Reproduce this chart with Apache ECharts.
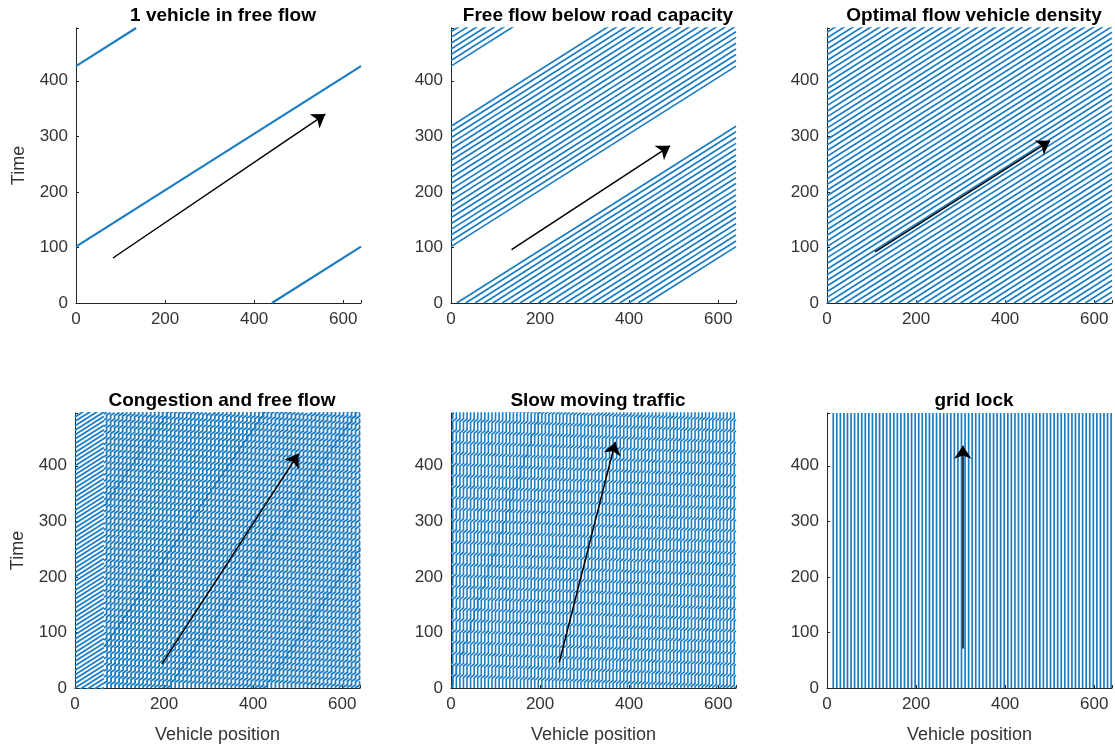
<!DOCTYPE html>
<html>
<head>
<meta charset="UTF-8">
<title>Traffic flow</title>
<script src="https://cdn.jsdelivr.net/npm/echarts@6/dist/echarts.min.js"></script>
<style>
    html, body { margin: 0; background: #fff; }
    #main { width: 1115px; height: 753px; }
</style>
</head>
<body>
<div id="main"></div>
<script type="text/javascript">
    // ---- data ----
    var titles = ['1 vehicle in free flow', 'Free flow below road capacity', 'Optimal flow vehicle density',
        'Congestion and free flow', 'Slow moving traffic', 'grid lock'];
    var xTicks = [0, 200, 400, 600];
    var yTicks = [0, 100, 200, 300, 400];
    var roadLen = 640, tMax = 495;
    var freeSpeed = 1.97;

    // panel 1: the one car, as segments [x,t]
    var p1Segs = [[[440, 0], [640, 101.5]], [[0, 101.5], [640, 426.4]], [[0, 426.4], [135, 495]]];
    // panel 2 / 3: car positions at t = 0
    var p2Start = [13, 33, 54, 74, 94, 115, 135, 155, 176, 196, 216, 237, 257, 277, 298, 318, 338, 359, 379, 399, 420, 440];
    var p3Start = [0, 20, 40, 60, 80, 100, 120, 140, 160, 180, 200, 220, 240, 260, 280, 300, 320, 340, 360, 380,
        400, 420, 440, 460, 480, 500, 520, 540, 560, 580, 600, 620];
    // panel 4: jammed cars, plus times the free cars pass x = 0
    var p4Start = [0, 9, 18, 27, 36, 45, 54, 63, 72, 81, 90, 99, 108, 117, 126, 135, 144, 153, 162, 171, 180, 189,
        198, 207, 216, 225, 234, 243, 252, 261, 270, 279, 288, 297, 306, 315, 324, 333, 342, 351, 360, 369, 378,
        387, 396, 405, 414, 423, 432, 441, 450, 459, 468, 477, 486, 495, 504, 513, 522, 531, 540, 549, 558, 567,
        576, 585, 594, 603, 612, 621, 630, 639];
    var p4FreeStart = [-32, -24, -16, -8, 0, 8, 16, 24, 32, 40, 48, 56, 64, 72, 80, 88, 96, 104, 112, 120, 128,
        136, 144, 152, 160, 168, 176, 184, 192, 200, 208, 216, 224, 232, 240, 248, 256, 264, 272, 280, 288, 296,
        304, 312, 320, 328, 336, 344, 352, 360, 368, 376, 384, 392, 400, 408, 416, 424, 432, 440, 448, 456, 464,
        472, 480, 488];
    var p4FreeEnd = 65;
    var p4Cycle = [11, 4.5, 9, 33 / 640];   // period, move time, move distance, wave lag per unit
    // panel 5
    var p5Start = [4, 12, 20, 28, 36, 44, 52, 60, 68, 76, 84, 92, 100, 108, 116, 124, 132, 140, 148, 156, 164,
        172, 180, 188, 196, 204, 212, 220, 228, 236, 244, 252, 260, 268, 276, 284, 292, 300, 308, 316, 324, 332,
        340, 348, 356, 364, 372, 380, 388, 396, 404, 412, 420, 428, 436, 444, 452, 460, 468, 476, 484, 492, 500,
        508, 516, 524, 532, 540, 548, 556, 564, 572, 580, 588, 596, 604, 612, 620, 628, 636];
    var p5Cycle = [20, 5, 8, 20 / 640];
    // panel 6: parked cars
    var p6Pos = [14, 22, 30, 38, 46, 54, 62, 70, 78, 86, 94, 102, 110, 118, 126, 134, 142, 150, 158, 166, 174,
        182, 190, 198, 206, 214, 222, 230, 238, 246, 254, 262, 270, 278, 286, 294, 302, 310, 318, 326, 334, 342,
        350, 358, 366, 374, 382, 390, 398, 406, 414, 422, 430, 438, 446, 454, 462, 470, 478, 486, 494, 502, 510,
        518, 526, 534, 542, 550, 558, 566, 574, 582, 590, 598, 606, 614, 622, 630, 638];
    // arrows [tail, head]
    var arrows = [[[83, 81], [560, 340]], [[136, 96], [492, 283]], [[108, 92], [501, 292]],
        [[195, 43], [502, 422]], [[243, 46], [369, 443]], [[305, 71], [305, 436]]];

    // ---- build trajectories ----
    function mod(a, n) { return ((a % n) + n) % n; }

    function freeFlow(starts, v) {
        var out = [];
        starts.forEach(function (x0) {
            var x = x0, t = 0;
            while (t < tMax) {
                var tEnd = t + (roadLen - x) / v;
                out.push([[x, t], [roadLen, tEnd]]);
                x = 0; t = tEnd;
            }
        });
        return out;
    }

    function stopGo(starts, cyc) {
        var period = cyc[0], move = cyc[1], dist = cyc[2], lag = cyc[3];
        var out = [];
        starts.forEach(function (x0) {
            var pts = [[x0, 0]], x = x0, t = 0;
            while (t < tMax) {
                var T = t + mod(-x * lag - t, period);
                pts.push([x, T]);
                var xe = x + dist, te = T + move;
                if (xe >= roadLen) {
                    var tc = T + move * (roadLen - x) / dist;
                    pts.push([roadLen, tc]);
                    out.push(pts);
                    pts = [[0, tc]];
                    xe -= roadLen;
                }
                pts.push([xe, te]);
                x = xe; t = te;
            }
            out.push(pts);
        });
        return out;
    }

    function clipLeft(lines, xmin) {
        var out = [];
        lines.forEach(function (pts) {
            var cur = [];
            for (var i = 0; i < pts.length; i++) {
                var p = pts[i];
                if (p[0] >= xmin) {
                    if (!cur.length && i > 0 && pts[i - 1][0] < xmin) {
                        var q = pts[i - 1], f = (xmin - q[0]) / (p[0] - q[0]);
                        cur.push([xmin, q[1] + f * (p[1] - q[1])]);
                    }
                    cur.push(p);
                } else if (cur.length) {
                    var q2 = pts[i - 1], f2 = (xmin - q2[0]) / (p[0] - q2[0]);
                    cur.push([xmin, q2[1] + f2 * (p[1] - q2[1])]);
                    out.push(cur); cur = [];
                }
            }
            if (cur.length > 1) out.push(cur);
        });
        return out;
    }

    var panels = [];
    panels.push(p1Segs);
    panels.push(freeFlow(p2Start, freeSpeed));
    panels.push(freeFlow(p3Start, freeSpeed));
    var p4 = clipLeft(stopGo(p4Start, p4Cycle), p4FreeEnd);
    p4FreeStart.forEach(function (t0) {
        p4.push([[0, t0], [p4FreeEnd, t0 + p4FreeEnd / freeSpeed]]);
    });
    panels.push(p4);
    panels.push(stopGo(p5Start, p5Cycle));
    panels.push(p6Pos.map(function (x) { return [[x, 0], [x, tMax]]; }));

    var lineW = [2.2, 1.7, 1.7, 1.8, 1.6, 1.7];
    var gridPos = [[76, 28], [451, 28], [827, 28], [75, 413], [451, 413], [827, 413]];
    var blue = '#1A7DC4';
    var font = 'Liberation Sans, Arial, Helvetica, sans-serif';

    var myChart = echarts.init(document.getElementById('main'));
    var grids = [], xAxes = [], yAxes = [], series = [], titleList = [];

    gridPos.forEach(function (g, i) {
        grids.push({ left: g[0], top: g[1], width: 285, height: 275 });
        titleList.push({
            text: titles[i], left: g[0] + 142, top: g[1] - 27, textAlign: 'center',
            textStyle: { fontFamily: font, fontSize: 19, fontWeight: 'bold', color: '#000' }
        });
        xAxes.push({
            type: 'value', gridIndex: i, min: 0, max: roadLen, interval: 200,
            name: i >= 3 ? 'Vehicle position' : '', nameLocation: 'middle', nameGap: 38,
            nameTextStyle: { fontFamily: font, fontSize: 18, color: '#333' },
            axisLine: { lineStyle: { color: '#262626', width: 1 } },
            axisTick: { inside: true, length: 3, lineStyle: { color: '#262626' } },
            splitLine: { show: false },
            axisLabel: {
                fontFamily: font, fontSize: 17, color: '#333', margin: 8,
                formatter: function (v) { return xTicks.indexOf(v) >= 0 ? String(v) : ''; }
            }
        });
        yAxes.push({
            type: 'value', gridIndex: i, min: 0, max: tMax, interval: 100,
            name: (i % 3 === 0) ? 'Time' : '', nameLocation: 'middle', nameGap: 48, nameRotate: 90,
            nameTextStyle: { fontFamily: font, fontSize: 18, color: '#333' },
            axisLine: { show: true, lineStyle: { color: '#262626', width: 1 } },
            axisTick: { show: true, inside: true, length: 3, lineStyle: { color: '#262626' } },
            splitLine: { show: false },
            axisLabel: {
                fontFamily: font, fontSize: 17, color: '#333', margin: 8,
                formatter: function (v) { return yTicks.indexOf(v) >= 0 ? String(v) : ''; }
            }
        });
        series.push({
            type: 'lines', coordinateSystem: 'cartesian2d', xAxisIndex: i, yAxisIndex: i,
            polyline: true, clip: true, silent: true, animation: false,
            lineStyle: { color: blue, width: lineW[i], opacity: 1 },
            data: panels[i].map(function (pts) { return { coords: pts }; })
        });
        series.push({
            type: 'lines', coordinateSystem: 'cartesian2d', xAxisIndex: i, yAxisIndex: i,
            silent: true, animation: false, symbol: ['none', 'arrow'], symbolSize: 13,
            lineStyle: { color: '#000', width: 1.5, opacity: 1 },
            data: [{ coords: arrows[i] }]
        });
    });

    myChart.setOption({
        animation: false,
        title: titleList,
        grid: grids,
        xAxis: xAxes,
        yAxis: yAxes,
        series: series
    });
</script>
</body>
</html>
